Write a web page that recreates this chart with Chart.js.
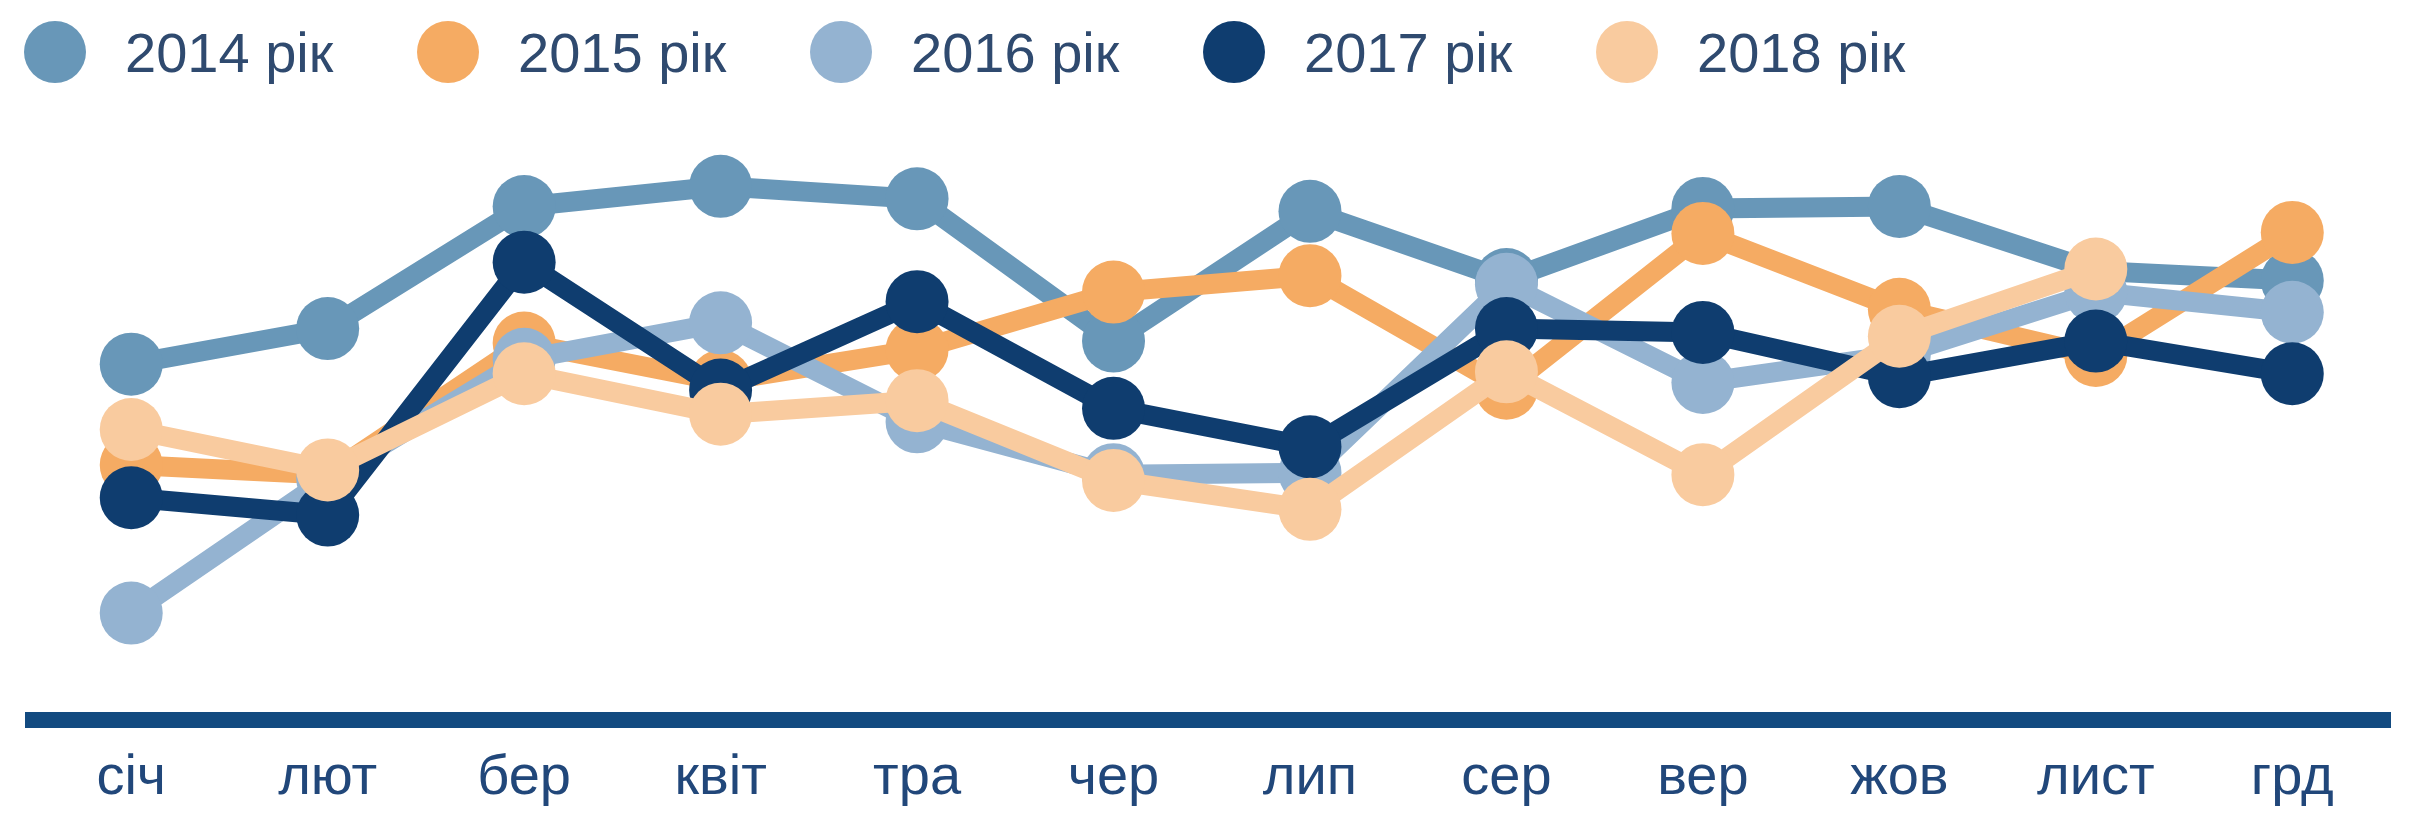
<!DOCTYPE html>
<html>
<head>
<meta charset="utf-8">
<script src="https://cdn.jsdelivr.net/npm/chart.js@4.4.1/dist/chart.umd.min.js"></script>
<style>
  html, body { margin: 0; padding: 0; background: #fff; overflow: hidden; }
  #wrap { position: relative; width: 2422px; height: 837px; }
  #legend { position: absolute; left: 0; top: 22px; height: 60px; width: 2422px;
            font-family: "Liberation Sans", Arial, sans-serif; font-size: 56px; color: #2f4a6f; }
  .item { position: absolute; top: 0; height: 60px; display: flex; align-items: center; white-space: nowrap; }
  .dot { width: 62px; height: 62px; border-radius: 50%; margin-right: 39px; flex: none; }
</style>
</head>
<body>
<div id="wrap">
  <canvas id="lineChart" width="2422" height="837"></canvas>
  <div id="legend"></div>
</div>
<script>
var months = ['січ', 'лют', 'бер', 'квіт', 'тра', 'чер', 'лип', 'сер', 'вер', 'жов', 'лист', 'грд'];
var years = ['2014 рік', '2015 рік', '2016 рік', '2017 рік', '2018 рік'];

var y2014 = [74, 81.4, 106.8, 111, 108.4, 78.8, 105.8, 91.6, 106.4, 106.8, 93.4, 91.4];
var y2015 = [53, 51, 78.4, 70.4, 77, 89, 92.4, 69, 101.2, 85.4, 75.8, 101.4];
var y2016 = [22.2, 50.2, 75, 82.6, 62, 51, 51.4, 90.6, 70.2, 76, 89, 84.8];
var y2017 = [46.2, 42.6, 95.2, 68.6, 87, 64.8, 56.8, 81.4, 80.6, 71.4, 78.8, 72];
var y2018 = [60.4, 52, 72, 63.6, 66.4, 49.8, 43.8, 72.4, 51, 79.8, 93.8, null];

var colors = [
    '#6897b8', // steel blue
    '#f5ab63', // orange
    '#94b3d1', // light blue
    '#0f3d6f', // navy
    '#f9cb9f'  // peach
];

Chart.defaults.font.family = '"Liberation Sans", Arial, sans-serif';

function series(i, values) {
    return {
        label: years[i],
        data: values,
        borderColor: colors[i],
        backgroundColor: colors[i],
        pointBackgroundColor: colors[i],
        borderWidth: 20,
        pointRadius: 31.5,
        pointBorderWidth: 0,
        pointHoverRadius: 31.5,
        tension: 0,
        fill: false,
        order: 5 - i // later years drawn on top
    };
}

var ctx = document.getElementById('lineChart');
var myChart = new Chart(ctx, {
    type: 'line',
    data: {
        labels: months,
        datasets: [
            series(0, y2014),
            series(1, y2015),
            series(2, y2016),
            series(3, y2017),
            series(4, y2018)
        ]
    },
    options: {
        responsive: false,
        animation: false,
        layout: {
            padding: { left: 33, right: -26, top: 95, bottom: 0 }
        },
        plugins: {
            legend: { display: false },
            tooltip: { enabled: false }
        },
        scales: {
            x: {
                offset: true,
                grid: { display: false, drawTicks: false },
                border: { display: true, color: '#124a80', width: 16 },
                ticks: {
                    padding: 25,
                    color: '#21477a',
                    font: { size: 56 },
                    autoSkip: false,
                    maxRotation: 0
                }
            },
            y: { display: false, min: 0, max: 130 }
        }
    }
});

// html legend built from the chart's datasets
var legend = document.getElementById('legend');
myChart.data.datasets.forEach(function (ds, i) {
    var item = document.createElement('div');
    item.className = 'item';
    item.style.left = (24 + 393 * i) + 'px';
    var dot = document.createElement('span');
    dot.className = 'dot';
    dot.style.background = ds.borderColor;
    var txt = document.createElement('span');
    txt.textContent = ds.label;
    item.appendChild(dot);
    item.appendChild(txt);
    legend.appendChild(item);
});
</script>
</body>
</html>
